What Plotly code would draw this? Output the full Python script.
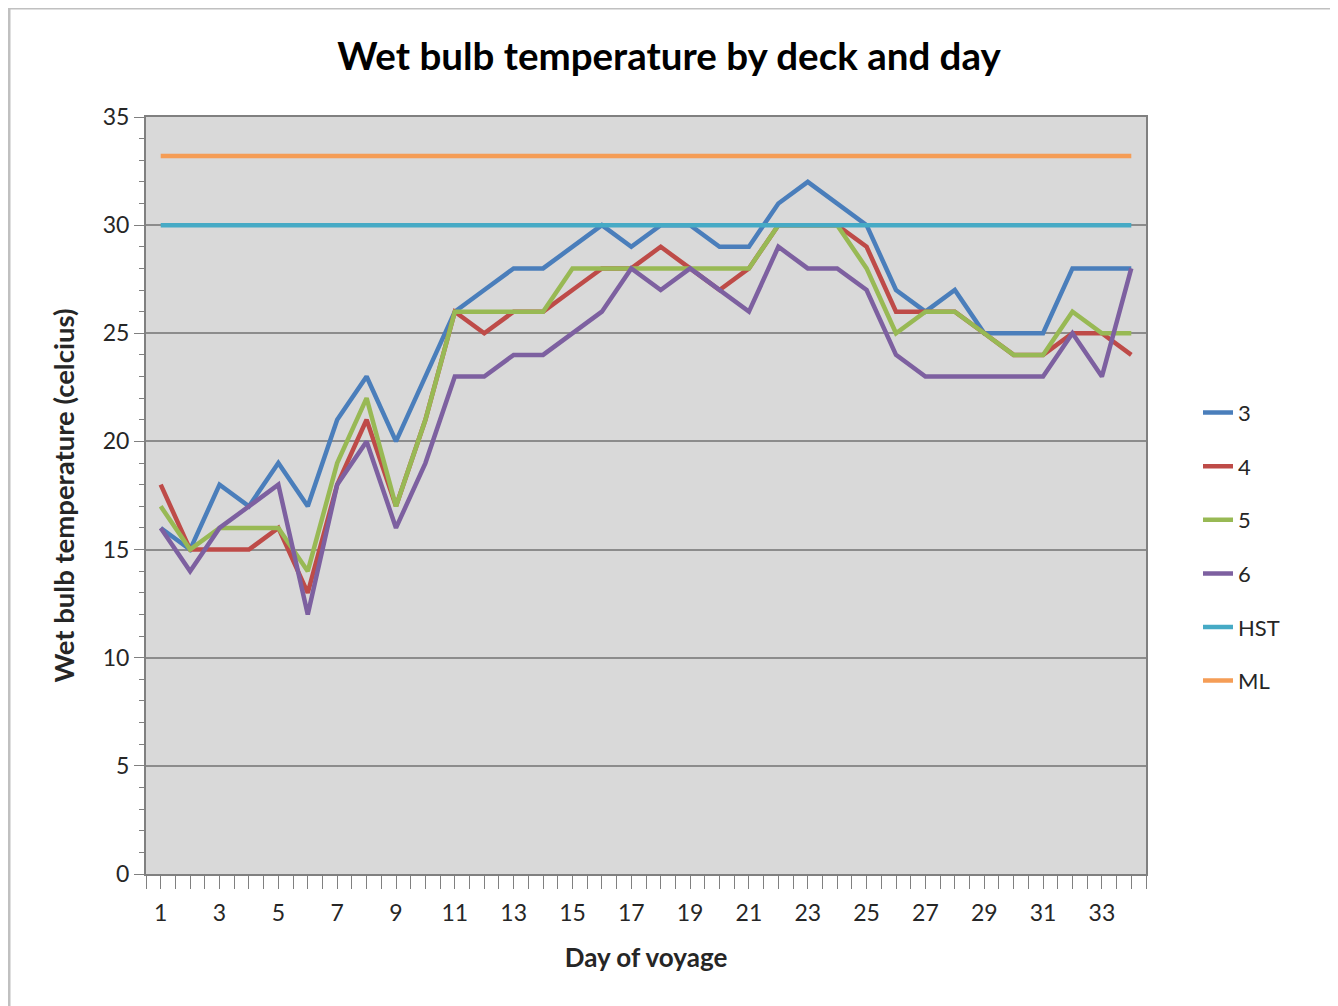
import plotly.graph_objects as go

days = list(range(1, 35))

deck3 = [16, 15, 18, 17, 19, 17, 21, 23, 20, 23, 26, 27, 28, 28, 29, 30, 29, 30, 30, 29, 29, 31, 32, 31, 30, 27, 26, 27, 25, 25, 25, 28, 28, 28]
deck4 = [18, 15, 15, 15, 16, 13, 18, 21, 17, 21, 26, 25, 26, 26, 27, 28, 28, 29, 28, 27, 28, 30, 30, 30, 29, 26, 26, 26, 25, 24, 24, 25, 25, 24]
deck5 = [17, 15, 16, 16, 16, 14, 19, 22, 17, 21, 26, 26, 26, 26, 28, 28, 28, 28, 28, 28, 28, 30, 30, 30, 28, 25, 26, 26, 25, 24, 24, 26, 25, 25]
deck6 = [16, 14, 16, 17, 18, 12, 18, 20, 16, 19, 23, 23, 24, 24, 25, 26, 28, 27, 28, 27, 26, 29, 28, 28, 27, 24, 23, 23, 23, 23, 23, 25, 23, 28]
hst_value = 30
ml_value = 33.2

series_names = ["3", "4", "5", "6", "HST", "ML"]
series_values = [deck3, deck4, deck5, deck6, [hst_value] * len(days), [ml_value] * len(days)]
colors = ["#4A7EBB", "#BE4B48", "#98B954", "#7D60A0", "#46AAC5", "#F59D56"]

x_tick_vals = [i / 2 for i in range(1, 70)]
x_tick_text = [str(int(v)) if v == int(v) and int(v) % 2 == 1 else "" for v in x_tick_vals]

fig = go.Figure()
for name, vals, col in zip(series_names, series_values, colors):
    fig.add_trace(go.Scatter(
        x=days, y=vals, mode="lines", name=name,
        line=dict(color=col, width=4.5),
        legendgroup=name,
    ))

font_family = "Lato, 'Open Sans', sans-serif"

fig.update_layout(
    width=1338, height=1006,
    margin=dict(l=138, r=200, t=109, b=140),
    paper_bgcolor="white",
    plot_bgcolor="#D9D9D9",
    font=dict(family=font_family, color="#262626"),
    title=dict(
        text="<b>Wet bulb temperature by deck and day</b>",
        x=661 / 1338, xanchor="center", xref="container",
        y=1 - 49 / 1006, yanchor="middle",
        font=dict(size=38.5, color="#000000", family=font_family),
    ),
    showlegend=True,
    legend=dict(
        x=1.052, xanchor="left", y=0.637, yanchor="top",
        font=dict(size=22, color="#262626"),
        tracegroupgap=22,
        bgcolor="rgba(0,0,0,0)",
    ),
    xaxis=dict(
        range=[0.5, 34.5],
        tickmode="array", tickvals=x_tick_vals, ticktext=x_tick_text,
        ticks="outside", ticklen=13, tickcolor="#808080", tickwidth=1,
        ticklabelstandoff=4,
        tickfont=dict(size=23, color="#262626"),
        showgrid=False, zeroline=False,
        showline=True, linecolor="#808080", linewidth=2, mirror=True,
        title=dict(text="<b>Day of voyage</b>", font=dict(size=26, color="#262626"), standoff=24),
    ),
    yaxis=dict(
        range=[0, 35],
        tickmode="linear", tick0=0, dtick=5,
        ticks="outside", ticklen=10, tickcolor="#808080", tickwidth=1,
        minor=dict(dtick=1, ticks="outside", ticklen=5, tickcolor="#808080", showgrid=False),
        tickfont=dict(size=23, color="#262626"),
        showgrid=True, gridcolor="#8C8C8C", gridwidth=2,
        zeroline=False,
        showline=True, linecolor="#808080", linewidth=2, mirror=True,
        title=dict(text="<b>Wet bulb temperature (celcius)</b>", font=dict(size=27.5, color="#262626"), standoff=20),
    ),
    shapes=[dict(
        type="rect", xref="paper", yref="paper",
        x0=-0.137, x1=1.186, y0=-0.25, y1=1.144,
        line=dict(color="#C0C0C0", width=3), fillcolor="rgba(0,0,0,0)", layer="below",
    )],
)

fig.write_html("out.html")
